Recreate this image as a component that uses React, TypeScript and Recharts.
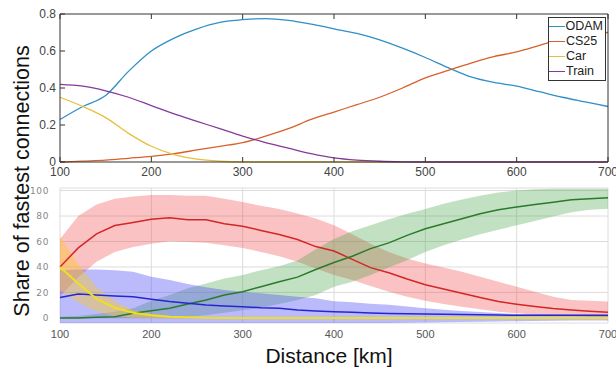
import React from 'react';
import { ComposedChart, Line, Area, XAxis, YAxis, CartesianGrid, Legend } from 'recharts';

// top panel: share of fastest connections per mode
const topKm = [100, 125, 150, 175, 200, 225, 250, 275, 300, 325, 350, 375, 400, 425, 450, 475, 500, 525, 550, 575, 600, 625, 650, 675, 700];
const odam = [0.23, 0.3, 0.36, 0.49, 0.6, 0.67, 0.72, 0.755, 0.77, 0.775, 0.765, 0.745, 0.72, 0.695, 0.66, 0.615, 0.565, 0.51, 0.46, 0.43, 0.41, 0.38, 0.35, 0.325, 0.3];
const cs25 = [0, 0.005, 0.01, 0.02, 0.03, 0.045, 0.065, 0.085, 0.105, 0.14, 0.18, 0.23, 0.27, 0.31, 0.35, 0.4, 0.455, 0.495, 0.535, 0.57, 0.595, 0.63, 0.665, 0.69, 0.7];
const car = [0.35, 0.3, 0.24, 0.155, 0.085, 0.04, 0.015, 0.004, 0, 0, 0, 0, 0, 0, 0, 0, 0, 0, 0, 0, 0, 0, 0, 0, 0];
const train = [0.42, 0.41, 0.385, 0.35, 0.305, 0.26, 0.22, 0.18, 0.14, 0.105, 0.075, 0.045, 0.022, 0.01, 0.004, 0.001, 0, 0, 0, 0, 0, 0, 0, 0, 0];
const topXTicks = [100, 200, 300, 400, 500, 600, 700];
const topYTicks = [0, 0.2, 0.4, 0.6, 0.8];

// bottom panel: mean lines with spread bands
const botKm = [100, 120, 140, 160, 180, 200, 220, 240, 260, 280, 300, 320, 340, 360, 380, 400, 420, 440, 460, 480, 500, 520, 540, 560, 580, 600, 620, 640, 660, 680, 700];
const redMean = [40, 55, 66, 72.5, 75, 77.5, 78.6, 77, 77, 74, 72, 68.7, 65.5, 61.5, 56, 52.5, 46, 39.5, 35.5, 30.5, 26, 22.7, 19.3, 16, 12.8, 10.7, 8.9, 7.3, 6.2, 5.2, 4.4];
const redHigh = [62, 80, 89, 93.5, 95.3, 96.5, 96.5, 96, 96, 93.5, 91, 88, 85.5, 82, 78, 72.7, 65.6, 58.3, 51.8, 46.6, 42.7, 39.6, 36.2, 32.3, 28.4, 24.5, 20.6, 16.6, 14, 13.5, 12.8];
const redLow = [17, 32, 44, 51.8, 55.7, 58.3, 60.2, 59.6, 59.1, 57, 54.9, 51.8, 48.4, 44, 38.8, 33.6, 29.7, 25, 20.6, 16.6, 13.5, 10.9, 8.8, 6.8, 4.9, 3.6, 2.5, 2, 1.5, 1.2, 1];
const greenMean = [0, 0, 0.5, 1, 3.6, 5.7, 7.6, 10.9, 14, 18, 20.6, 24.5, 28.4, 32, 38, 43.5, 48.4, 54.4, 58.9, 64.8, 70, 74, 77.9, 81.8, 85, 87, 89, 90.9, 92.7, 93.5, 94.3];
const greenHigh = [1, 1.5, 3, 4.8, 7.6, 13.5, 18, 23.2, 27.1, 31, 33.6, 37.5, 40.6, 45, 54, 62, 68, 72.7, 77.5, 81.8, 85.5, 89.6, 93, 96, 98.5, 100, 101, 101.5, 101.5, 101.5, 101.5];
const greenLow = [0, 0, 0, 0, 0, 0.2, 0.5, 1, 2, 4, 6, 8, 11, 14, 18, 24.5, 28.4, 33.6, 39.6, 45.3, 51.8, 57, 61.5, 65.6, 69.3, 72.7, 76, 79.7, 82.9, 85, 85.7];
const blueMean = [16.1, 18.7, 18, 17.2, 16.6, 14.6, 12.8, 11.5, 10.2, 9.4, 8.8, 8, 7.6, 6.3, 5.5, 4.9, 4.4, 3.9, 3.5, 3.2, 3, 2.8, 2.6, 2.4, 2.2, 2, 2, 2, 2, 2, 2];
const blueHigh = [37.5, 38, 38, 37.5, 36.2, 32.3, 29.7, 26.6, 24, 21.9, 20.6, 19.3, 18, 16.6, 15.4, 13, 12.2, 11.2, 10.3, 9, 7.6, 6.5, 5.4, 4.6, 3.8, 3.1, 2.9, 2.7, 2.5, 2.4, 2.3];
const blueLow = [-4, -4, -4, -4, -4, -4, -4, -4, -4, -4, -4, -4, -4, -4, -4, -4, -4, -4, -4, -3.8, -3.6, -3.4, -3.2, -3, -2.8, -2.6, -2.4, -2.2, -2, -2, -2];
const yellowMean = [40, 27, 15, 8, 4, 2, 1, 0.5, 0.2, 0, 0, 0, 0, 0, 0, 0, 0, 0, 0, 0, 0, 0, 0, 0, 0, 0, 0, 0, 0, 0, 0];
const yellowHigh = [64, 42, 24, 13, 6, 3, 1.5, 1, 0.5, 0.5, 0.5, 0.5, 0.5, 0.5, 0.5, 0.5, 0.5, 0.5, 0.5, 0.5, 0.5, 0.5, 0.5, 0.5, 0.5, 0.5, 0.5, 0.5, 0.5, 0.5, 0.5];
const yellowLow = [22, 12, 5, 1.5, 0, -0.5, -0.5, -0.5, -0.5, -0.5, -0.5, -0.5, -0.5, -0.5, -0.5, -0.5, -0.5, -0.5, -0.5, -0.5, -0.5, -0.5, -0.5, -0.5, -0.5, -0.5, -0.5, -0.5, -0.5, -0.5, -0.5];
const botYTicks = [0, 20, 40, 60, 80, 100];

const topData = topKm.map((km, i) => ({ km, odam: odam[i], cs25: cs25[i], car: car[i], train: train[i] }));
const botData = botKm.map((km, i) => ({
  km,
  red: redMean[i], redBand: [redLow[i], redHigh[i]],
  green: greenMean[i], greenBand: [greenLow[i], greenHigh[i]],
  blue: blueMean[i], blueBand: [blueLow[i], blueHigh[i]],
  yellow: yellowMean[i], yellowBand: [yellowLow[i], yellowHigh[i]],
}));

const FONT = '"Liberation Sans", Arial, sans-serif';
const FRAME = '#333';

const legendItems = [
  { name: 'ODAM', color: '#2f8fc6' },
  { name: 'CS25', color: '#d8602a' },
  { name: 'Car', color: '#e8bf3c' },
  { name: 'Train', color: '#86399a' },
];

// matlab-ish ticks pointing into the box
const BottomTick = (p: any) => (
  <g>
    <line x1={p.x} x2={p.x} y1={p.y} y2={p.y - 5} stroke={FRAME} />
    <text x={p.x} y={p.y + 10} dy="0.35em" textAnchor="middle" fontSize={12} fill="#444" fontFamily={FONT}>{p.payload.value}</text>
  </g>
);
const TopTick = (p: any) => <line x1={p.x} x2={p.x} y1={p.y} y2={p.y + 5} stroke={FRAME} />;
const LeftTick = (p: any) => (
  <g>
    <line x1={p.x} x2={p.x + 5} y1={p.y} y2={p.y} stroke={FRAME} />
    <text x={p.x - 4} y={p.y} dy="0.35em" textAnchor="end" fontSize={12} fill="#444" fontFamily={FONT}>{p.payload.value}</text>
  </g>
);
const RightTick = (p: any) => <line x1={p.x} x2={p.x - 5} y1={p.y} y2={p.y} stroke={FRAME} />;

const LegendBox = () => (
  <div style={{ border: `1px solid ${FRAME}`, background: '#fff', padding: '1px 2px 1px 0', fontFamily: FONT, fontSize: 12.5, color: '#222' }}>
    {legendItems.map((it) => (
      <div key={it.name} style={{ height: 15, lineHeight: '15px', display: 'flex', alignItems: 'center' }}>
        <span style={{ display: 'inline-block', width: 16, height: 1.4, background: it.color, marginRight: 1 }} />
        {it.name}
      </div>
    ))}
  </div>
);

export default function App() {
  return (
    <div style={{ position: 'absolute', left: 0, top: 0, width: 616, height: 367, background: '#fff', fontFamily: FONT }}>
      <div style={{ position: 'absolute', left: 0, top: 0 }}>
        <ComposedChart width={616} height={185} data={topData} margin={{ top: 13, right: 7, bottom: 0, left: 0 }}>
          <XAxis dataKey="km" type="number" domain={[100, 700]} ticks={topXTicks} tickLine={false} tickSize={0} tickMargin={0}
            axisLine={{ stroke: FRAME }} tick={BottomTick} height={23} interval={0} />
          <XAxis xAxisId="t" orientation="top" dataKey="km" type="number" domain={[100, 700]} ticks={topXTicks} tickLine={false}
            tickSize={0} tickMargin={0} axisLine={{ stroke: FRAME }} tick={TopTick} height={1} interval={0} />
          <YAxis type="number" domain={[0, 0.8]} ticks={topYTicks} tickLine={false} tickSize={0} tickMargin={0}
            axisLine={{ stroke: FRAME }} tick={LeftTick} width={60} interval={0} />
          <YAxis yAxisId="r" orientation="right" type="number" domain={[0, 0.8]} ticks={topYTicks} tickLine={false}
            tickSize={0} tickMargin={0} axisLine={{ stroke: FRAME }} tick={RightTick} width={1} interval={0} />
          <Line type="monotone" dataKey="odam" name="ODAM" stroke={legendItems[0].color} strokeWidth={1.3} dot={false} isAnimationActive={false} />
          <Line type="monotone" dataKey="cs25" name="CS25" stroke={legendItems[1].color} strokeWidth={1.3} dot={false} isAnimationActive={false} />
          <Line type="monotone" dataKey="car" name="Car" stroke={legendItems[2].color} strokeWidth={1.3} dot={false} isAnimationActive={false} />
          <Line type="monotone" dataKey="train" name="Train" stroke={legendItems[3].color} strokeWidth={1.3} dot={false} isAnimationActive={false} />
          <Legend layout="vertical" align="center" verticalAlign="middle" content={<LegendBox />}
            wrapperStyle={{ position: 'absolute', top: 17, left: 548, width: 58 }} />
        </ComposedChart>
      </div>

      <div style={{ position: 'absolute', left: 0, top: 180 }}>
        <ComposedChart width={616} height={163} data={botData} margin={{ top: 8, right: 8, bottom: 0, left: 0 }}>
          <CartesianGrid stroke="#dcdcdc" />
          <XAxis dataKey="km" type="number" domain={[100, 700]} ticks={topXTicks} tickLine={false} axisLine={false}
            tickMargin={1} tick={{ fontSize: 11, fill: '#555', fontFamily: FONT }} height={20} interval={0} />
          <YAxis type="number" domain={[-4, 102]} ticks={botYTicks} tickLine={false} axisLine={false} tickMargin={5}
            tick={{ fontSize: 9, fill: '#888', fontFamily: '"DejaVu Sans", sans-serif', letterSpacing: 0.6 }} width={60} interval={0} />
          <Area type="linear" dataKey="redBand" stroke="none" fill="rgb(240,70,70)" fillOpacity={0.33} isAnimationActive={false} />
          <Area type="linear" dataKey="greenBand" stroke="none" fill="rgb(70,165,70)" fillOpacity={0.33} isAnimationActive={false} />
          <Area type="linear" dataKey="blueBand" stroke="none" fill="rgb(85,85,245)" fillOpacity={0.4} isAnimationActive={false} />
          <Area type="linear" dataKey="yellowBand" stroke="none" fill="rgb(255,200,30)" fillOpacity={0.4} isAnimationActive={false} />
          <Line type="linear" dataKey="red" stroke="#d42626" strokeWidth={1.5} dot={false} isAnimationActive={false} />
          <Line type="linear" dataKey="green" stroke="#2b7a2b" strokeWidth={1.5} dot={false} isAnimationActive={false} />
          <Line type="linear" dataKey="blue" stroke="#2626d0" strokeWidth={1.5} dot={false} isAnimationActive={false} />
          <Line type="linear" dataKey="yellow" stroke="#eee020" strokeWidth={2} dot={false} isAnimationActive={false} />
        </ComposedChart>
      </div>

      <div style={{ position: 'absolute', left: 22, top: 181, transform: 'translate(-50%, -50%) rotate(-90deg)', whiteSpace: 'nowrap', fontSize: 21.5, color: '#111' }}>
        Share of fastest connections
      </div>
      <div style={{ position: 'absolute', left: 329, top: 356, transform: 'translate(-50%, -50%)', whiteSpace: 'nowrap', fontSize: 21, color: '#111' }}>
        Distance [km]
      </div>
    </div>
  );
}
